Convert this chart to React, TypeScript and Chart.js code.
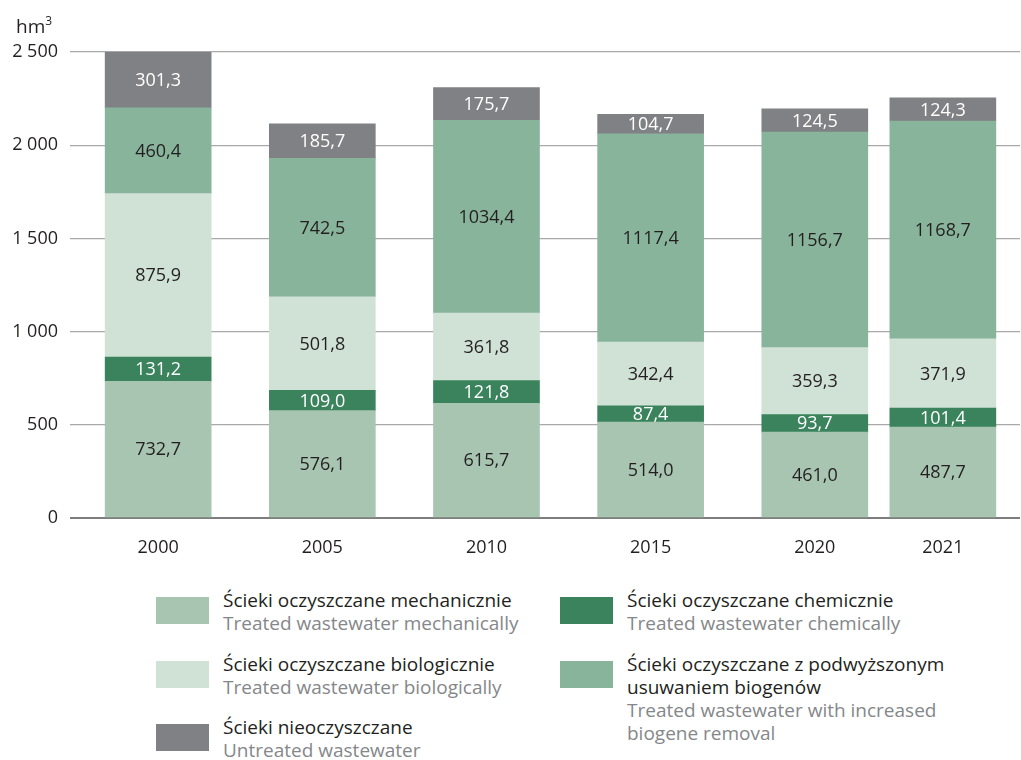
import React, { useEffect, useRef } from "react";
import { Chart, registerables, CategoryScale } from "chart.js";

Chart.register(...registerables);

const categories = ["2000", "2005", "2010", "2015", "2020", "2021"];
const mechanical = [732.7, 576.1, 615.7, 514.0, 461.0, 487.7];
const chemical = [131.2, 109.0, 121.8, 87.4, 93.7, 101.4];
const biological = [875.9, 501.8, 361.8, 342.4, 359.3, 371.9];
const increased = [460.4, 742.5, 1034.4, 1117.4, 1156.7, 1168.7];
const untreated = [301.3, 185.7, 175.7, 104.7, 124.5, 124.3];
const yTicks = [0, 500, 1000, 1500, 2000, 2500];

const seriesNames = [
  { pl: "Ścieki oczyszczane mechanicznie", en: "Treated wastewater mechanically" },
  { pl: "Ścieki oczyszczane chemicznie", en: "Treated wastewater chemically" },
  { pl: "Ścieki oczyszczane biologicznie", en: "Treated wastewater biologically" },
  { pl: "Ścieki oczyszczane z podwyższonym usuwaniem biogenów", en: "Treated wastewater with increased biogene removal" },
  { pl: "Ścieki nieoczyszczane", en: "Untreated wastewater" },
];

const COLORS = ["#a7c5b1", "#3a835d", "#d0e1d6", "#88b49b", "#808185"];
const LABEL_COLORS = ["#231f20", "#ffffff", "#231f20", "#231f20", "#ffffff"];
const FONT = "'Open Sans', 'Noto Sans', sans-serif";

class GappedCategoryScale extends (CategoryScale as any) {
  static id = "gappedCategory";
  static defaults = { ...(CategoryScale as any).defaults };
  getPixelForValue(value: any) {
    let v = value;
    if (typeof v !== "number") v = this.parse(v);
    if (v === null || isNaN(v)) return NaN;
    const gaps: number[] = this.options.gaps;
    const edges: number[] = this.options.edges;
    let units = edges[0];
    for (let i = 0; i < v; i++) units += gaps[i];
    const total = edges[0] + gaps.reduce((a, b) => a + b, 0) + edges[1];
    return this.left + (this.width * units) / total;
  }
}
Chart.register(GappedCategoryScale as any);

const labelPlugin = {
  id: "segmentLabels",
  afterDatasetsDraw(chart: any) {
    const ctx = chart.ctx;
    ctx.save();
    ctx.font = `18px ${FONT}`;
    ctx.textAlign = "center";
    ctx.textBaseline = "middle";
    chart.data.datasets.forEach((ds: any, di: number) => {
      const meta = chart.getDatasetMeta(di);
      meta.data.forEach((el: any, i: number) => {
        const p = el.getProps(["x", "y", "base"], true);
        const v = ds.data[i];
        ctx.fillStyle = LABEL_COLORS[di];
        ctx.fillText(v.toFixed(1).replace(".", ","), p.x, (p.y + p.base) / 2 + 1);
      });
    });
    ctx.restore();
  },
};

const unitPlugin = {
  id: "unitLabel",
  afterDraw(chart: any) {
    const ctx = chart.ctx;
    ctx.save();
    ctx.fillStyle = "#231f20";
    ctx.textAlign = "left";
    ctx.textBaseline = "alphabetic";
    ctx.font = `19px ${FONT}`;
    ctx.fillText("hm", 16, 33);
    const w = ctx.measureText("hm").width;
    ctx.font = `12px ${FONT}`;
    ctx.fillText("3", 16 + w, 25);
    ctx.restore();
  },
};

function fmt(v: number) {
  const s = String(v);
  return s.length > 3 ? s.slice(0, s.length - 3) + " " + s.slice(-3) : s;
}

const legendLayout = [
  { idx: 0, col: 0, row: 0 },
  { idx: 2, col: 0, row: 1 },
  { idx: 4, col: 0, row: 2 },
  { idx: 1, col: 1, row: 0 },
  { idx: 3, col: 1, row: 1 },
];

export default function App() {
  const ref = useRef<HTMLCanvasElement>(null);
  useEffect(() => {
    if (!ref.current) return;
    const series = [mechanical, chemical, biological, increased, untreated];
    const chart = new Chart(ref.current, {
      type: "bar",
      data: {
        labels: categories,
        datasets: series.map((d, i) => ({
          label: seriesNames[i].pl,
          data: d,
          backgroundColor: COLORS[i],
          borderWidth: 0,
          barThickness: 106,
        })),
      },
      options: {
        responsive: false,
        animation: false,
        devicePixelRatio: 1,
        events: [],
        layout: { padding: { left: 0, right: 1, top: 52, bottom: 0 } },
        plugins: { legend: { display: false }, tooltip: { enabled: false }, title: { display: false } },
        scales: {
          x: {
            type: "gappedCategory" as any,
            stacked: true,
            gaps: [1, 1, 1, 1, 0.78],
            edges: [0.537, 0.47],
            grid: { display: false },
            border: { display: false },
            ticks: { autoSkip: false, maxRotation: 0, padding: 11, color: "#231f20", font: { family: FONT, size: 18 } },
            afterFit: (s: any) => { s.height = 42; },
          } as any,
          y: {
            stacked: true,
            min: 0,
            max: 2500,
            afterBuildTicks: (s: any) => { s.ticks = yTicks.map((v) => ({ value: v })); },
            grid: {
              color: (c: any) => (c.tick && c.tick.value === 0 ? "#7d7d7d" : "#a8a8a8"),
              lineWidth: (c: any) => (c.tick && c.tick.value === 0 ? 2 : 1.3),
              drawTicks: false,
            },
            border: { display: false },
            ticks: {
              padding: 12,
              color: "#231f20",
              font: { family: FONT, size: 18 },
              callback: (v: any) => fmt(Number(v)),
            },
            afterFit: (s: any) => { s.width = 70; },
          },
        },
      } as any,
      plugins: [labelPlugin, unitPlugin],
    });
    return () => chart.destroy();
  }, []);

  return (
    <div style={{ position: "absolute", left: 0, top: 0, width: 1021, height: 760, background: "#fff", overflow: "hidden", fontFamily: FONT }}>
      <canvas ref={ref} width={1021} height={560} style={{ position: "absolute", left: 0, top: 0 }} />
      {legendLayout.map(({ idx, col, row }) => {
        const sx = col === 0 ? 156 : 560;
        const tx = col === 0 ? 223 : 627;
        const top = [589, 653, 716][row];
        return (
          <React.Fragment key={idx}>
            <div style={{ position: "absolute", left: sx, top: top + 8, width: 53, height: 27, background: COLORS[idx] }} />
            <div style={{ position: "absolute", left: tx, top, width: col === 0 ? 330 : 360, fontSize: 19, lineHeight: "23px" }}>
              <div style={{ color: "#231f20" }}>{seriesNames[idx].pl}</div>
              <div style={{ color: "#85878a" }}>{seriesNames[idx].en}</div>
            </div>
          </React.Fragment>
        );
      })}
    </div>
  );
}
